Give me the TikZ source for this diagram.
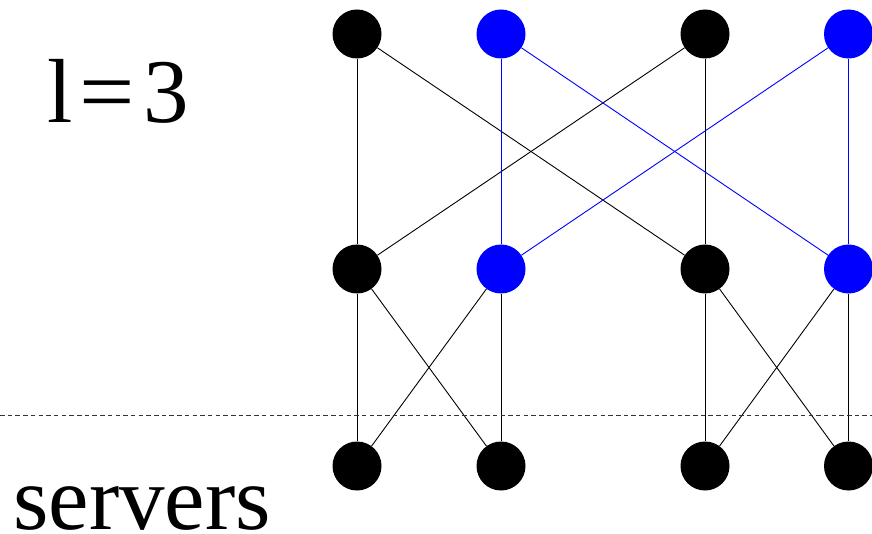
\documentclass[tikz,border=0pt]{standalone}
\usepackage{fontspec}
\setmainfont{Liberation Serif}
\begin{document}
\begin{tikzpicture}[x=1pt,y=-1pt,
  vtx/.style={circle,fill=black,minimum size=49pt,inner sep=0pt},
  bvtx/.style={vtx,fill=blue},
  link/.style={draw=black,line width=0.9pt},
  blink/.style={draw=blue,line width=0.9pt},
  cut/.style={draw=black!80,line width=0.8pt,dash pattern=on 4.5pt off 3.2pt},
  label/.style={inner sep=0pt,anchor=base west,text depth=0pt,font=\fontsize{91}{100}\selectfont}]
\useasboundingbox (0,0) rectangle (872,534);
% top layer
\node[vtx]  (t1) at (357,34) {};
\node[bvtx] (t2) at (501,34) {};
\node[vtx]  (t3) at (705,34) {};
\node[bvtx] (t4) at (848.5,34) {};
% middle layer
\node[vtx]  (m1) at (357,269) {};
\node[bvtx] (m2) at (501,269) {};
\node[vtx]  (m3) at (705,269) {};
\node[bvtx] (m4) at (848.5,269) {};
% servers
\node[vtx] (s1) at (357,466) {};
\node[vtx] (s2) at (501,466) {};
\node[vtx] (s3) at (705,466) {};
\node[vtx] (s4) at (848.5,466) {};
% links between top and middle
\path[link] (t1) -- (m1);
\path[link] (t1) -- (m3);
\path[link] (t3) -- (m1);
\path[link] (t3) -- (m3);
\path[blink] (t2) -- (m2);
\path[blink] (t2) -- (m4);
\path[blink] (t4) -- (m2);
\path[blink] (t4) -- (m4);
% links between middle and servers
\path[link] (m1) -- (s1);
\path[link] (m1) -- (s2);
\path[link] (m2) -- (s1);
\path[link] (m2) -- (s2);
\path[link] (m3) -- (s3);
\path[link] (m3) -- (s4);
\path[link] (m4) -- (s3);
\path[link] (m4) -- (s4);
% separator
\coordinate (dl) at (0,415);
\coordinate (dr) at (872,415);
\path[cut] (dl) -- (dr);
% labels
\node[label] (lvl) at (47,123) {l\kern7pt\scalebox{1.08}[1]{=}\kern9pt 3};
\node[label] (srv) at (13,529) {servers};
\end{tikzpicture}
\end{document}
